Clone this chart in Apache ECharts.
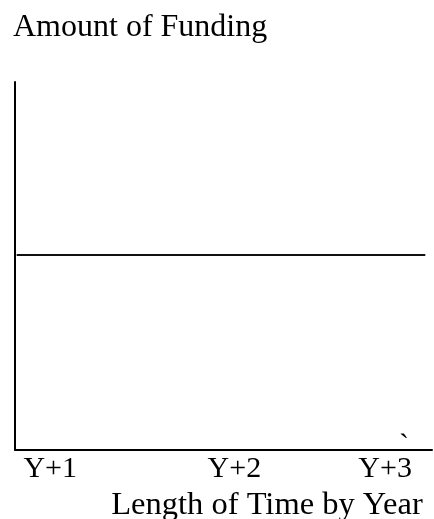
<!DOCTYPE html>
<html>
<head>
<meta charset="utf-8">
<script src="https://cdn.jsdelivr.net/npm/echarts@6/dist/echarts.min.js"></script>
<style>
  html, body { margin: 0; padding: 0; background: #fff; }
  #chart { width: 434px; height: 519px; }
</style>
</head>
<body>
<div id="chart"></div>
<script>
// tick labels on the time axis and where they sit (in years)
var tickLabels = ['Y+1', 'Y+2', 'Y+3']
var tickValues = [1, 2.1, 3]
// funding stays flat over the period
var fundingX = [0.8, 3.24]
var fundingY = [53, 53]

var serif = 'Liberation Serif'
var myChart = echarts.init(document.getElementById('chart'))

var option = {
  animation: false,
  title: {
    text: 'Amount of Funding',
    left: 13,
    top: 12,
    padding: 0,
    textStyle: { fontFamily: serif, fontSize: 32, fontWeight: 'normal', color: '#000' }
  },
  grid: { left: 15, right: 2, top: 82, bottom: 69, outerBoundsMode: 'none' },
  xAxis: {
    type: 'value',
    min: 0.79,
    max: 3.28,
    name: 'Length of Time by Year',
    nameLocation: 'middle',
    nameGap: 35,
    nameTextStyle: { fontFamily: serif, fontSize: 32.5, color: '#000', padding: [0, 0, 0, 87] },
    axisLine: { show: true, lineStyle: { color: '#000', width: 2 } },
    axisTick: { show: false },
    splitLine: { show: false },
    axisLabel: {
      customValues: tickValues,
      margin: 4,
      fontFamily: serif,
      fontSize: 30,
      color: '#000',
      formatter: function (v) {
        var i = tickValues.indexOf(v)
        return i >= 0 ? tickLabels[i] : ''
      }
    }
  },
  yAxis: {
    type: 'value',
    min: 0,
    max: 100,
    axisLine: { show: true, lineStyle: { color: '#000', width: 2 } },
    axisTick: { show: false },
    axisLabel: { show: false },
    splitLine: { show: false }
  },
  graphic: [{
    // stray mark in the original drawing
    type: 'text',
    left: 399,
    top: 431,
    style: { text: '`', fontFamily: serif, fontSize: 30, fill: '#000' }
  }],
  series: [{
    type: 'line',
    symbol: 'none',
    lineStyle: { color: '#111', width: 2 },
    data: fundingX.map(function (x, i) { return [x, fundingY[i]] })
  }]
}
myChart.setOption(option)
</script>
</body>
</html>
